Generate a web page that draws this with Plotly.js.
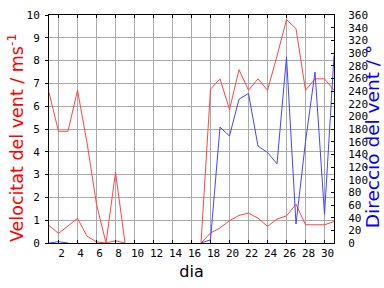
<!DOCTYPE html>
<html><head><meta charset="utf-8">
<script src="https://cdn.plot.ly/plotly-3.0.1.min.js"></script>
<style>body{margin:0;padding:0;background:#fff}#c{width:384px;height:288px}</style>
</head><body><div id="c"></div>
<script>
const days = [1,2,3,4,5,6,7,8,9,10,11,12,13,14,15,16,17,18,19,20,21,22,23,24,25,26,27,28,29,30,31];
const windMax = [6.6,4.9,4.9,6.7,4.4,1.7,0,3.1,0,null,null,null,null,null,null,null,0,6.75,7.2,5.85,7.6,6.7,7.2,6.7,8.2,9.8,9.4,6.7,7.2,7.2,6.7];
const windMean = [0.77,0.42,0.75,1.08,0.3,0.05,0,0.1,0,null,null,null,null,null,null,null,0,0.44,0.66,0.98,1.21,1.31,1.09,0.73,1.05,1.19,1.7,0.8,0.8,0.8,0.94];
const windDir = [0,2,0,null,null,null,null,null,null,null,null,null,null,null,null,null,0,5,183,169,227,236,153,143,125,294,30,160,270,45,296];
const xTicks = [2,4,6,8,10,12,14,16,18,20,22,24,26,28,30];
const titleSpeed = 'Velocitat del vent / ms<sup>-1</sup>';
const titleDir = 'Direcció del vent / °';
const titleX = 'dia';

const red = '#ff4444', blue = '#4444ff';
const traces = [
  {x: days, y: windMax, type:'scatter', mode:'lines', line:{color:red, width:1}, yaxis:'y', connectgaps:false, hoverinfo:'skip'},
  {x: days, y: windMean, type:'scatter', mode:'lines', line:{color:red, width:1}, yaxis:'y', connectgaps:false, hoverinfo:'skip'},
  {x: days, y: windDir, type:'scatter', mode:'lines', line:{color:blue, width:1}, yaxis:'y2', connectgaps:false, hoverinfo:'skip'}
];
const tickFont = {family:'DejaVu Sans Mono', size:11, color:'#000'};
const layout = {
  width:384, height:288,
  margin:{l:49, r:50, t:15, b:45, pad:0},
  paper_bgcolor:'#fff', plot_bgcolor:'#fff',
  showlegend:false,
  xaxis:{range:[1,31], tickvals:xTicks, ticktext:xTicks.map(String), showgrid:true, gridcolor:'#aaaaaa', gridwidth:1,
    zeroline:false, showline:true, linecolor:'#000', linewidth:1, mirror:'ticks', ticks:'inside', ticklen:3, tickcolor:'#000',
    tickfont:tickFont, ticklabelshift:3,
    title:{text:titleX, font:{family:'DejaVu Sans', size:16, color:'#000'}, standoff:6}},
  yaxis:{range:[0,10], dtick:1, tick0:0, showgrid:true, gridcolor:'#aaaaaa', gridwidth:1, zeroline:false,
    showline:true, linecolor:'#000', linewidth:1, ticks:'outside', ticklen:3, tickcolor:'#000', tickfont:tickFont,
    ticklabelstandoff:3},
  yaxis2:{range:[0,360], dtick:20, tick0:0, overlaying:'y', side:'right', showgrid:false, zeroline:false,
    showline:true, linecolor:'#000', linewidth:1, ticks:'inside', ticklen:3, tickcolor:'#000', tickfont:tickFont,
    ticklabelstandoff:11},
  annotations:[
    {text:titleSpeed, xref:'paper', yref:'paper', x:-0.116, y:0.46, xanchor:'center', yanchor:'middle', textangle:-90,
     showarrow:false, font:{family:'DejaVu Sans', size:17.5, color:'#ff0000'}},
    {text:titleDir, xref:'paper', yref:'paper', x:1.133, y:0.468, xanchor:'center', yanchor:'middle', textangle:-90,
     showarrow:false, font:{family:'DejaVu Sans', size:18.5, color:'#0000ff'}}
  ]
};
Plotly.newPlot('c', traces, layout, {staticPlot:true, displayModeBar:false});
</script></body></html>
